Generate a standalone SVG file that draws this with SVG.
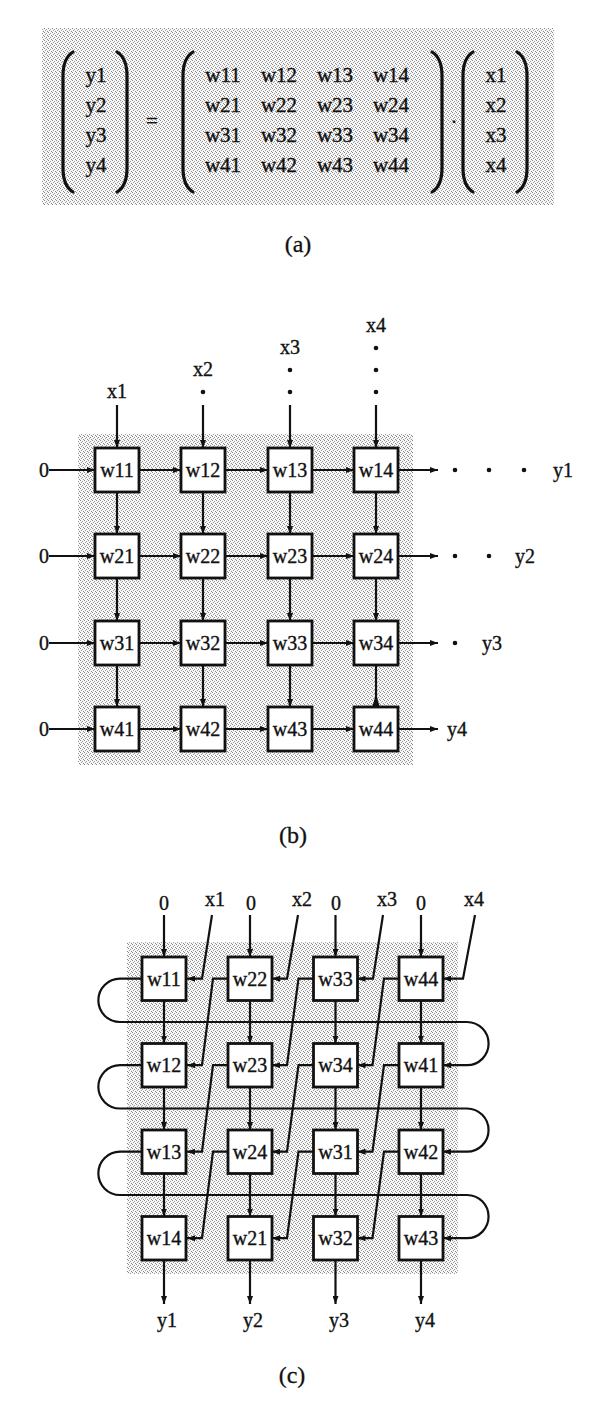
<svg xmlns="http://www.w3.org/2000/svg" width="600" height="1421" viewBox="0 0 600 1421">
<style>
.t{font-family:"Liberation Serif","Times New Roman",serif;font-size:20px;fill:#111;stroke:#111;stroke-width:0.35;text-anchor:middle}
.ta{font-family:"Liberation Serif","Times New Roman",serif;font-size:21px;fill:#111;stroke:#111;stroke-width:0.35;text-anchor:middle}
.ts{font-family:"Liberation Serif","Times New Roman",serif;font-size:20px;fill:#111;stroke:#111;stroke-width:0.35;text-anchor:start}
.cap{font-family:"Liberation Serif","Times New Roman",serif;font-size:24px;fill:#111;stroke:#111;stroke-width:0.3;text-anchor:middle}
.box{fill:#fff;stroke:#111;stroke-width:2.8}
.ln{fill:none;stroke:#111;stroke-width:2.2}
.ar{fill:none;stroke:#111;stroke-width:2.2;marker-end:url(#ah)}
.br{fill:none;stroke:#111;stroke-width:3.2;stroke-linecap:round}
.dot{fill:#111}
.stip{fill:url(#stip)}
</style>
<defs>
<pattern id="stip" width="4" height="4" patternUnits="userSpaceOnUse">
<rect width="4" height="4" fill="#f7f7f7"/>
<rect x="0" y="0" width="1" height="1" fill="#8a8a8a"/>
<rect x="2" y="1" width="1" height="1" fill="#999"/>
<rect x="1" y="2" width="1" height="1" fill="#a0a0a0"/>
<rect x="3" y="3" width="1" height="1" fill="#8a8a8a"/>
</pattern>
<marker id="ah" viewBox="0 0 8 6" refX="8" refY="3" markerWidth="8" markerHeight="6" markerUnits="userSpaceOnUse" orient="auto">
<path d="M0,0 L8,3 L0,6 z" fill="#111"/>
</marker>
</defs>
<rect width="600" height="1421" fill="#fff"/>

<!-- ===== (a) ===== -->
<g id="part-a">
<rect class="stip" x="42" y="28" width="512" height="177"/>
<path class="br" d="M73,52 Q63,58 63,76 V168 Q63,186 73,192"/>
<path class="br" d="M117,52 Q127,58 127,76 V168 Q127,186 117,192"/>
<path class="br" d="M193,52 Q183,58 183,76 V168 Q183,186 193,192"/>
<path class="br" d="M432,52 Q442,58 442,76 V168 Q442,186 432,192"/>
<path class="br" d="M473,52 Q463,58 463,76 V168 Q463,186 473,192"/>
<path class="br" d="M517,52 Q527,58 527,76 V168 Q527,186 517,192"/>
<g id="vec-y">
<text class="ta" x="96" y="82">y1</text>
<text class="ta" x="96" y="112">y2</text>
<text class="ta" x="96" y="142">y3</text>
<text class="ta" x="96" y="172">y4</text>
</g>
<text class="ta" x="152" y="128">=</text>
<g id="mat-w">
<text class="ta" x="223" y="82">w11</text><text class="ta" x="279" y="82">w12</text><text class="ta" x="335" y="82">w13</text><text class="ta" x="391" y="82">w14</text>
<text class="ta" x="223" y="112">w21</text><text class="ta" x="279" y="112">w22</text><text class="ta" x="335" y="112">w23</text><text class="ta" x="391" y="112">w24</text>
<text class="ta" x="223" y="142">w31</text><text class="ta" x="279" y="142">w32</text><text class="ta" x="335" y="142">w33</text><text class="ta" x="391" y="142">w34</text>
<text class="ta" x="223" y="172">w41</text><text class="ta" x="279" y="172">w42</text><text class="ta" x="335" y="172">w43</text><text class="ta" x="391" y="172">w44</text>
</g>
<text class="ta" x="454" y="129">·</text>
<g id="vec-x">
<text class="ta" x="496" y="82">x1</text>
<text class="ta" x="496" y="112">x2</text>
<text class="ta" x="496" y="142">x3</text>
<text class="ta" x="496" y="172">x4</text>
</g>
<text class="cap" x="298" y="252">(a)</text>
</g>

<!-- ===== (b) ===== -->
<rect class="stip" x="78" y="434" width="335" height="331"/>
<g id="b-connectors">
<path class="ar" d="M117,405 V448"/>
<path class="ar" d="M203,405 V448"/>
<path class="ar" d="M290,405 V448"/>
<path class="ar" d="M376,405 V448"/>
<path class="ar" d="M49,470 H95"/><path class="ar" d="M139,470 H181"/><path class="ar" d="M225,470 H268"/><path class="ar" d="M312,470 H354"/><path class="ar" d="M398,470 H438"/>
<path class="ar" d="M49,556 H95"/><path class="ar" d="M139,556 H181"/><path class="ar" d="M225,556 H268"/><path class="ar" d="M312,556 H354"/><path class="ar" d="M398,556 H438"/>
<path class="ar" d="M49,643 H95"/><path class="ar" d="M139,643 H181"/><path class="ar" d="M225,643 H268"/><path class="ar" d="M312,643 H354"/><path class="ar" d="M398,643 H438"/>
<path class="ar" d="M49,729 H95"/><path class="ar" d="M139,729 H181"/><path class="ar" d="M225,729 H268"/><path class="ar" d="M312,729 H354"/><path class="ar" d="M398,729 H438"/>
<path class="ar" d="M117,492 V534"/><path class="ar" d="M203,492 V534"/><path class="ar" d="M290,492 V534"/><path class="ar" d="M376,492 V534"/>
<path class="ar" d="M117,578 V621"/><path class="ar" d="M203,578 V621"/><path class="ar" d="M290,578 V621"/><path class="ar" d="M376,578 V621"/>
<path class="ar" d="M117,665 V707"/><path class="ar" d="M203,665 V707"/><path class="ar" d="M290,665 V707"/>
<path class="ln" d="M376,665 V707"/>
<path class="dot" d="M376,694 L372.5,706 L379.5,706 z"/>
</g>
<g id="b-dots">
<circle class="dot" cx="203" cy="392" r="2.3"/>
<circle class="dot" cx="290" cy="370" r="2.3"/><circle class="dot" cx="290" cy="392" r="2.3"/>
<circle class="dot" cx="376" cy="348" r="2.3"/><circle class="dot" cx="376" cy="370" r="2.3"/><circle class="dot" cx="376" cy="392" r="2.3"/>
<circle class="dot" cx="455" cy="470" r="2.3"/><circle class="dot" cx="489" cy="470" r="2.3"/><circle class="dot" cx="524" cy="470" r="2.3"/>
<circle class="dot" cx="455" cy="556" r="2.3"/><circle class="dot" cx="489" cy="556" r="2.3"/>
<circle class="dot" cx="455" cy="643" r="2.3"/>
</g>
<g id="b-labels">
<text class="t" x="117" y="398">x1</text>
<text class="t" x="203" y="376">x2</text>
<text class="t" x="290" y="354">x3</text>
<text class="t" x="376" y="332">x4</text>
<text class="t" x="44" y="477">0</text>
<text class="t" x="44" y="563">0</text>
<text class="t" x="44" y="650">0</text>
<text class="t" x="44" y="736">0</text>
<text class="ts" x="553" y="477">y1</text>
<text class="ts" x="515" y="563">y2</text>
<text class="ts" x="482" y="650">y3</text>
<text class="ts" x="447" y="736">y4</text>
</g>
<g id="b-w11"><rect class="box" x="95" y="448" width="44" height="44"/><text class="t" x="117" y="477">w11</text></g>
<g id="b-w12"><rect class="box" x="181" y="448" width="44" height="44"/><text class="t" x="203" y="477">w12</text></g>
<g id="b-w13"><rect class="box" x="268" y="448" width="44" height="44"/><text class="t" x="290" y="477">w13</text></g>
<g id="b-w14"><rect class="box" x="354" y="448" width="44" height="44"/><text class="t" x="376" y="477">w14</text></g>
<g id="b-w21"><rect class="box" x="95" y="534" width="44" height="44"/><text class="t" x="117" y="563">w21</text></g>
<g id="b-w22"><rect class="box" x="181" y="534" width="44" height="44"/><text class="t" x="203" y="563">w22</text></g>
<g id="b-w23"><rect class="box" x="268" y="534" width="44" height="44"/><text class="t" x="290" y="563">w23</text></g>
<g id="b-w24"><rect class="box" x="354" y="534" width="44" height="44"/><text class="t" x="376" y="563">w24</text></g>
<g id="b-w31"><rect class="box" x="95" y="621" width="44" height="44"/><text class="t" x="117" y="650">w31</text></g>
<g id="b-w32"><rect class="box" x="181" y="621" width="44" height="44"/><text class="t" x="203" y="650">w32</text></g>
<g id="b-w33"><rect class="box" x="268" y="621" width="44" height="44"/><text class="t" x="290" y="650">w33</text></g>
<g id="b-w34"><rect class="box" x="354" y="621" width="44" height="44"/><text class="t" x="376" y="650">w34</text></g>
<g id="b-w41"><rect class="box" x="95" y="707" width="44" height="44"/><text class="t" x="117" y="736">w41</text></g>
<g id="b-w42"><rect class="box" x="181" y="707" width="44" height="44"/><text class="t" x="203" y="736">w42</text></g>
<g id="b-w43"><rect class="box" x="268" y="707" width="44" height="44"/><text class="t" x="290" y="736">w43</text></g>
<g id="b-w44"><rect class="box" x="354" y="707" width="44" height="44"/><text class="t" x="376" y="736">w44</text></g>
<text class="cap" x="293" y="843">(b)</text>

<!-- ===== (c) ===== -->
<rect class="stip" x="127" y="942" width="331" height="332"/>
<g id="c-connectors">
<path class="ar" d="M164,915 V957"/><path class="ar" d="M250,915 V957"/><path class="ar" d="M335.5,915 V957"/><path class="ar" d="M421,915 V957"/>
<path class="ar" d="M212,915 L202,978.7 H187"/>
<path class="ar" d="M298,915 L287,978.7 H272"/>
<path class="ar" d="M383,915 L373,978.7 H357.5"/>
<path class="ar" d="M475,915 L463,978.7 H443"/>
<path class="ar" d="M164,1000.5 V1043.5"/><path class="ar" d="M250,1000.5 V1043.5"/><path class="ar" d="M335.5,1000.5 V1043.5"/><path class="ar" d="M421,1000.5 V1043.5"/>
<path class="ar" d="M164,1087 V1130"/><path class="ar" d="M250,1087 V1130"/><path class="ar" d="M335.5,1087 V1130"/><path class="ar" d="M421,1087 V1130"/>
<path class="ar" d="M164,1173.5 V1216.5"/><path class="ar" d="M250,1173.5 V1216.5"/><path class="ar" d="M335.5,1173.5 V1216.5"/><path class="ar" d="M421,1173.5 V1216.5"/>
<path class="ar" d="M164,1260 V1304"/><path class="ar" d="M250,1260 V1304"/><path class="ar" d="M335.5,1260 V1304"/><path class="ar" d="M421,1260 V1304"/>
<path class="ar" d="M228,978.7 H213 L202,1065.2 H187"/>
<path class="ar" d="M313.5,978.7 H298.5 L287,1065.2 H272"/>
<path class="ar" d="M399,978.7 H384 L372.5,1065.2 H357.5"/>
<path class="ar" d="M228,1065.2 H213 L202,1151.7 H187"/>
<path class="ar" d="M313.5,1065.2 H298.5 L287,1151.7 H272"/>
<path class="ar" d="M399,1065.2 H384 L372.5,1151.7 H357.5"/>
<path class="ar" d="M228,1151.7 H213 L202,1238.2 H187"/>
<path class="ar" d="M313.5,1151.7 H298.5 L287,1238.2 H272"/>
<path class="ar" d="M399,1151.7 H384 L372.5,1238.2 H357.5"/>
<path class="ar" d="M142,978.7 H120 A21.6,21.6 0 0 0 120,1022 H467 A21.6,21.6 0 0 1 467,1065.2 H443"/>
<path class="ar" d="M142,1065.2 H120 A21.6,21.6 0 0 0 120,1108.5 H467 A21.6,21.6 0 0 1 467,1151.7 H443"/>
<path class="ar" d="M142,1151.7 H120 A21.6,21.6 0 0 0 120,1195 H467 A21.6,21.6 0 0 1 467,1238.2 H443"/>
</g>
<g id="c-labels">
<text class="t" x="164" y="910">0</text>
<text class="t" x="251" y="910">0</text>
<text class="t" x="336" y="910">0</text>
<text class="t" x="421" y="910">0</text>
<text class="t" x="215" y="906">x1</text>
<text class="t" x="302" y="906">x2</text>
<text class="t" x="387" y="906">x3</text>
<text class="t" x="474" y="906">x4</text>
<text class="t" x="167" y="1327">y1</text>
<text class="t" x="253" y="1327">y2</text>
<text class="t" x="339" y="1327">y3</text>
<text class="t" x="425" y="1327">y4</text>
</g>
<g id="c-w11"><rect class="box" x="142" y="957" width="44" height="43.5"/><text class="t" x="164" y="985.7">w11</text></g>
<g id="c-w22"><rect class="box" x="228" y="957" width="44" height="43.5"/><text class="t" x="250" y="985.7">w22</text></g>
<g id="c-w33"><rect class="box" x="313.5" y="957" width="44" height="43.5"/><text class="t" x="335.5" y="985.7">w33</text></g>
<g id="c-w44"><rect class="box" x="399" y="957" width="44" height="43.5"/><text class="t" x="421" y="985.7">w44</text></g>
<g id="c-w12"><rect class="box" x="142" y="1043.5" width="44" height="43.5"/><text class="t" x="164" y="1072.2">w12</text></g>
<g id="c-w23"><rect class="box" x="228" y="1043.5" width="44" height="43.5"/><text class="t" x="250" y="1072.2">w23</text></g>
<g id="c-w34"><rect class="box" x="313.5" y="1043.5" width="44" height="43.5"/><text class="t" x="335.5" y="1072.2">w34</text></g>
<g id="c-w41"><rect class="box" x="399" y="1043.5" width="44" height="43.5"/><text class="t" x="421" y="1072.2">w41</text></g>
<g id="c-w13"><rect class="box" x="142" y="1130" width="44" height="43.5"/><text class="t" x="164" y="1158.7">w13</text></g>
<g id="c-w24"><rect class="box" x="228" y="1130" width="44" height="43.5"/><text class="t" x="250" y="1158.7">w24</text></g>
<g id="c-w31"><rect class="box" x="313.5" y="1130" width="44" height="43.5"/><text class="t" x="335.5" y="1158.7">w31</text></g>
<g id="c-w42"><rect class="box" x="399" y="1130" width="44" height="43.5"/><text class="t" x="421" y="1158.7">w42</text></g>
<g id="c-w14"><rect class="box" x="142" y="1216.5" width="44" height="43.5"/><text class="t" x="164" y="1245.2">w14</text></g>
<g id="c-w21"><rect class="box" x="228" y="1216.5" width="44" height="43.5"/><text class="t" x="250" y="1245.2">w21</text></g>
<g id="c-w32"><rect class="box" x="313.5" y="1216.5" width="44" height="43.5"/><text class="t" x="335.5" y="1245.2">w32</text></g>
<g id="c-w43"><rect class="box" x="399" y="1216.5" width="44" height="43.5"/><text class="t" x="421" y="1245.2">w43</text></g>
<text class="cap" x="292" y="1383">(c)</text>
</svg>
